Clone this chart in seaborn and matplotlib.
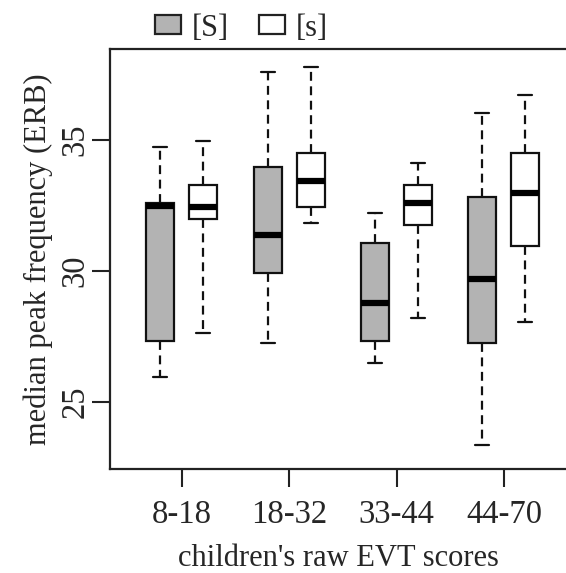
import numpy as np
import pandas as pd
import matplotlib
matplotlib.use("Agg")
import matplotlib.pyplot as plt
from matplotlib.patches import Patch
import seaborn as sns

# Dữ liệu: năm số (min, Q1, median, Q3, max) cho mỗi hộp
groups = ["8-18", "18-32", "33-44", "44-70"]
sounds = ["[S]", "[s]"]

S_low = [25.93, 27.23, 26.47, 23.35]
S_q1 = [27.32, 29.91, 27.32, 27.25]
S_med = [32.47, 31.37, 28.76, 29.69]
S_q3 = [32.58, 33.96, 31.05, 32.83]
S_high = [34.72, 37.61, 32.20, 36.04]

s_low = [27.64, 31.84, 28.22, 28.06]
s_q1 = [31.98, 32.45, 31.75, 30.95]
s_med = [32.45, 33.45, 32.58, 32.96]
s_q3 = [33.27, 34.49, 33.28, 34.49]
s_high = [34.97, 37.78, 34.11, 36.72]

rows = []
for i, g in enumerate(groups):
    for v in [S_low[i], S_q1[i], S_med[i], S_q3[i], S_high[i]]:
        rows.append((g, "[S]", v))
    for v in [s_low[i], s_q1[i], s_med[i], s_q3[i], s_high[i]]:
        rows.append((g, "[s]", v))
df = pd.DataFrame(rows, columns=["score", "sound", "erb"])

sns.set_style("white")
plt.rcParams["font.family"] = ["Liberation Serif", "DejaVu Serif"]

gray = "#b3b3b3"
palette = {"[S]": gray, "[s]": "white"}
fs = 22
tfs = 23.5

fig = plt.figure(figsize=(5.66, 5.73), dpi=100)
ax = fig.add_axes([110 / 566, 1 - 469.3 / 573, (566 - 110) / 566, (469.3 - 49) / 573])

sns.boxplot(data=df, x="score", y="erb", hue="sound", order=groups, hue_order=sounds,
            palette=palette, whis=(0, 100), width=0.8, gap=0.35, linecolor="#111111",
            linewidth=1.6, ax=ax, legend=False,
            whiskerprops={"linestyle": (0, (4, 2.5))},
            medianprops={"linewidth": 4.5, "color": "black"})

ax.set_xlim(-0.668, 3.578)
ax.set_ylim(22.42, 38.48)
ax.set_yticks([25, 30, 35])
ax.set_xlabel("children's raw EVT scores", fontsize=fs, labelpad=10)
ax.set_ylabel("median peak frequency (ERB)", fontsize=fs, labelpad=5)
ax.tick_params(axis="both", which="both", length=13, width=1.5, color="#222222",
               labelsize=tfs, left=True, bottom=True)
ax.tick_params(axis="x", pad=9)
ax.tick_params(axis="y", pad=1)
for lab in ax.get_yticklabels():
    lab.set_rotation(90)
    lab.set_va("center")

for side in ["left", "top", "bottom"]:
    ax.spines[side].set_visible(True)
    ax.spines[side].set_color("#222222")
    ax.spines[side].set_linewidth(1.6)
ax.spines["right"].set_visible(False)

handles = [Patch(facecolor=gray, edgecolor="#222222", linewidth=1.6),
           Patch(facecolor="white", edgecolor="#222222", linewidth=1.6)]
fig.legend(handles, sounds, loc="center left", bbox_to_anchor=(155 / 566, 1 - 28 / 573),
           ncol=2, frameon=False, fontsize=fs, handlelength=0.85, handleheight=0.6,
           handletextpad=0.35, columnspacing=1.0, borderpad=0, borderaxespad=0)

fig.savefig("out.png", dpi=100)
